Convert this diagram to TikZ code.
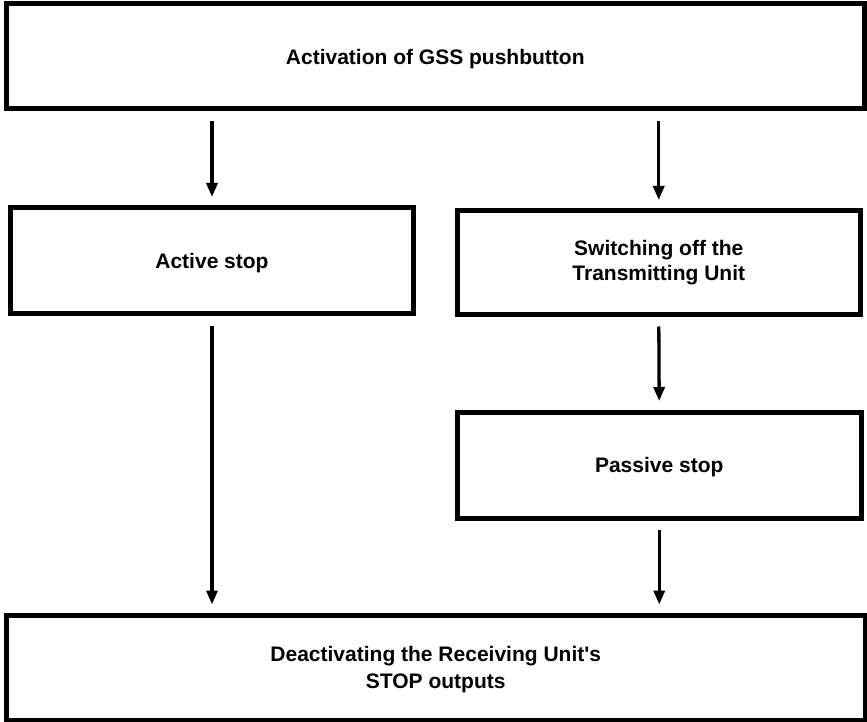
\documentclass[tikz,border=0pt]{standalone}
\usepackage{fontspec}
\setmainfont{Liberation Sans}
\usetikzlibrary{arrows.meta}
\begin{document}
\begin{tikzpicture}[x=1pt,y=-1pt,
  box/.style={draw=black,line width=5pt,fill=white,rectangle,outer sep=0pt,inner sep=0pt,
    align=center,font=\bfseries\fontsize{21}{25.5}\selectfont},
  oneline/.style={text depth=0pt},
  arr/.style={line width=3.3pt,-{Triangle[width=11pt,length=14pt]},shorten <=12pt,shorten >=11pt}]
\useasboundingbox (0,0) rectangle (867,722);
\node[box,oneline,minimum width=857.5pt,minimum height=105pt] (top) at (435.25,56.5) {Activation of GSS pushbutton};
\node[box,oneline,minimum width=403pt,minimum height=105.5pt] (act) at (212,260.75) {Active stop};
\node[box,minimum width=403.5pt,minimum height=103.5pt] (sw) at (658.75,262.75) {Switching off the\\Transmitting Unit};
\node[box,oneline,minimum width=403.5pt,minimum height=106pt] (pas) at (659.25,465) {Passive stop};
\node[box,minimum width=858.5pt,minimum height=104.5pt,text depth=-5pt,font=\bfseries\fontsize{21}{27}\selectfont] (bot) at (435.75,667.75) {Deactivating the Receiving Unit\textquotesingle s\\STOP outputs};
\draw[arr] (top.south -| act.north) -- (act.north);
\draw[arr] (top.south -| sw.north) -- (sw.north);
\draw[arr] (act.south) -- (bot.north -| act.south);
\draw[arr] (sw.south) -- (pas.north);
\draw[arr] (pas.south) -- (bot.north -| pas.south);
\end{tikzpicture}
\end{document}
